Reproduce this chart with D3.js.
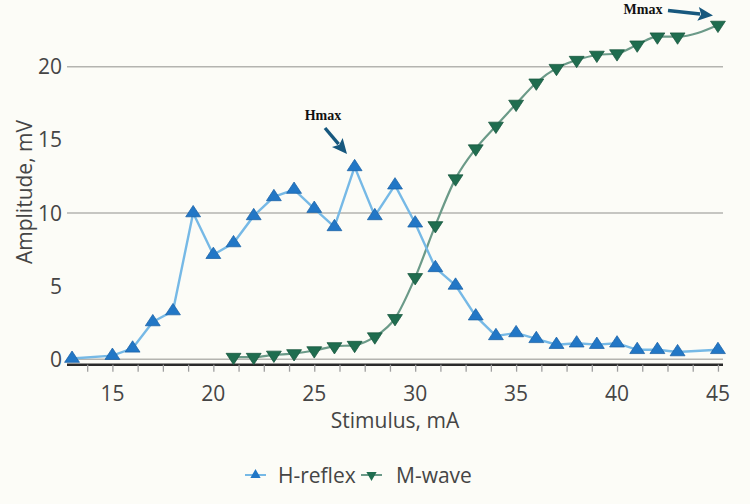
<!DOCTYPE html>
<html>
<head>
<meta charset="utf-8">
<script src="https://cdn.jsdelivr.net/npm/d3@7"></script>
<style>
  html, body { margin: 0; padding: 0; background: #fcfcf7; }
  svg { display: block; }
  text { font-family: "Open Sans", "Noto Sans", sans-serif; }
</style>
</head>
<body>
<svg id="chart" width="750" height="504"></svg>
<script>
// ---- data ----
const hStim = [13,15,16,17,18,19,20,21,22,23,24,25,26,27,28,29,30,31,32,33,34,35,36,37,38,39,40,41,42,43,45];
const hAmp  = [0.05,0.25,0.75,2.55,3.3,10.0,7.15,7.95,9.8,11.1,11.6,10.3,9.05,13.15,9.8,11.9,9.3,6.25,5.05,2.95,1.6,1.8,1.4,1.0,1.1,1.0,1.1,0.65,0.65,0.5,0.65];
const mStim = [21,22,23,24,25,26,27,28,29,30,31,32,33,34,35,36,37,38,39,40,41,42,43,45];
const mAmp  = [0.15,0.15,0.3,0.4,0.6,0.88,0.97,1.55,2.8,5.6,9.15,12.35,14.4,15.95,17.45,18.9,19.9,20.45,20.8,20.9,21.5,22.05,22.05,22.85];
const xTickLabels = [15,20,25,30,35,40,45];
const yTickLabels = [0,5,10,15,20];
const yGridValues = [0,10,20];
const seriesNames = ["H-reflex","M-wave"];
const xTitle = "Stimulus, mA";
const yTitle = "Amplitude, mV";

// ---- layout ----
const svg = d3.select("#chart");
const x = d3.scaleLinear().domain([12.75, 45.25]).range([67, 723]);
const y = d3.scaleLinear().domain([0, 20]).range([359.3, 66.7]);
const yBottom = y(-0.37);

const hColorLine = "#76b9e6", hColorMark = "#2277c6", hStroke = "#1b62a6";
const mColorLine = "#6b9a88", mColorMark = "#1f6d4f", mStroke = "#17553d";
const arrowColor = "#17587e";

// gridlines
svg.append("g").selectAll("line").data(yGridValues).join("line")
  .attr("x1", x.range()[0]).attr("x2", x.range()[1])
  .attr("y1", d => y(d)).attr("y2", d => y(d))
  .attr("stroke", "#b4b4b0").attr("stroke-width", 1.6);

// y tick labels
svg.append("g").selectAll("text").data(yTickLabels).join("text")
  .attr("x", 62).attr("y", d => y(d)).attr("dy", "0.36em")
  .attr("text-anchor", "end").attr("font-size", 21).attr("fill", "#454545")
  .text(d => d);

// x axis
const minorTicks = d3.range(13.75, 45.01, 1.25);
const xAxis = d3.axisBottom(x).tickValues(minorTicks).tickSize(7).tickFormat("");
const gx = svg.append("g").attr("transform", `translate(0,${yBottom})`).call(xAxis);
gx.select(".domain").attr("stroke", "#2a2a2a").attr("stroke-width", 2.6).attr("d", `M${x.range()[0]},0H${x.range()[1]}`);
gx.selectAll(".tick line").attr("stroke", "#a0a0a0").attr("stroke-width", 1.3);

svg.append("g").selectAll("text").data(xTickLabels).join("text")
  .attr("x", d => x(d)).attr("y", 401)
  .attr("text-anchor", "middle").attr("font-size", 21).attr("fill", "#454545")
  .text(d => d);

// axis titles
svg.append("text").attr("x", (x.range()[0] + x.range()[1]) / 2).attr("y", 428)
  .attr("text-anchor", "middle").attr("font-size", 21).attr("fill", "#454545").text(xTitle);
svg.append("text").attr("transform", "translate(32,192) rotate(-90)")
  .attr("text-anchor", "middle").attr("font-size", 21).attr("fill", "#454545").text(yTitle);

// lines
const hData = hStim.map((s, i) => [s, hAmp[i]]);
const mData = mStim.map((s, i) => [s, mAmp[i]]);
const lineLin = d3.line().x(d => x(d[0])).y(d => y(d[1]));
const lineSmooth = d3.line().x(d => x(d[0])).y(d => y(d[1])).curve(d3.curveMonotoneX);

svg.append("path").datum(mData).attr("d", lineSmooth)
  .attr("fill", "none").attr("stroke", mColorLine).attr("stroke-width", 2.2);
svg.append("path").datum(hData).attr("d", lineLin)
  .attr("fill", "none").attr("stroke", hColorLine).attr("stroke-width", 2.4);

const tri = d3.symbol(d3.symbolTriangle, 96);
svg.append("g").selectAll("path").data(mData).join("path")
  .attr("d", tri)
  .attr("transform", d => `translate(${x(d[0])},${y(d[1])}) rotate(180) scale(1,0.88)`)
  .attr("fill", mColorMark).attr("stroke", mStroke).attr("stroke-width", 0.8);
svg.append("g").selectAll("path").data(hData).join("path")
  .attr("d", tri)
  .attr("transform", d => `translate(${x(d[0])},${y(d[1])}) scale(1,0.88)`)
  .attr("fill", hColorMark).attr("stroke", hStroke).attr("stroke-width", 0.8);

// legend
const legend = svg.append("g").attr("transform", "translate(0,475)");
const legItems = [
  {name: seriesNames[0], x0: 245, line: hColorLine, mark: hColorMark, rot: 0, tx: 278},
  {name: seriesNames[1], x0: 361, line: mColorLine, mark: mColorMark, rot: 180, tx: 396}
];
legItems.forEach(it => {
  legend.append("line").attr("x1", it.x0).attr("x2", it.x0 + 21).attr("y1", 0).attr("y2", 0)
    .attr("stroke", it.line).attr("stroke-width", 2);
  legend.append("path").attr("d", d3.symbol(d3.symbolTriangle, 46))
    .attr("transform", `translate(${it.x0 + 10.5},0) rotate(${it.rot})`)
    .attr("fill", it.mark);
  legend.append("text").attr("x", it.tx).attr("y", 0).attr("dy", "0.36em")
    .attr("font-size", 21).attr("fill", "#454545").text(it.name);
});

// annotations (arrow shaft + explicit arrowhead)
const annot = [
  {label: "Hmax", tx: 323, ty: 120, ax1: 325, ay1: 128, ax2: 347, ay2: 154},
  {label: "Mmax", tx: 643, ty: 13.5, ax1: 668, ay1: 10.5, ax2: 713, ay2: 15.5}
];
const headLen = 15, headHalf = 7;
annot.forEach(a => {
  svg.append("text").attr("x", a.tx).attr("y", a.ty).attr("text-anchor", "middle")
    .style("font-family", "'Liberation Serif', 'Times New Roman', serif")
    .attr("font-weight", "bold").attr("font-size", 14).attr("fill", "#111").text(a.label);
  const dx = a.ax2 - a.ax1, dy = a.ay2 - a.ay1, L = Math.hypot(dx, dy);
  const ux = dx / L, uy = dy / L, px = -uy, py = ux;
  const bx = a.ax2 - ux * headLen, by = a.ay2 - uy * headLen;
  svg.append("line").attr("x1", a.ax1).attr("y1", a.ay1).attr("x2", bx + ux * 2).attr("y2", by + uy * 2)
    .attr("stroke", arrowColor).attr("stroke-width", 3.4);
  const p = d3.path();
  p.moveTo(a.ax2, a.ay2);
  p.lineTo(bx + px * headHalf, by + py * headHalf);
  p.lineTo(bx + ux * 3, by + uy * 3);
  p.lineTo(bx - px * headHalf, by - py * headHalf);
  p.closePath();
  svg.append("path").attr("d", p.toString()).attr("fill", arrowColor);
});
</script>
</body>
</html>
